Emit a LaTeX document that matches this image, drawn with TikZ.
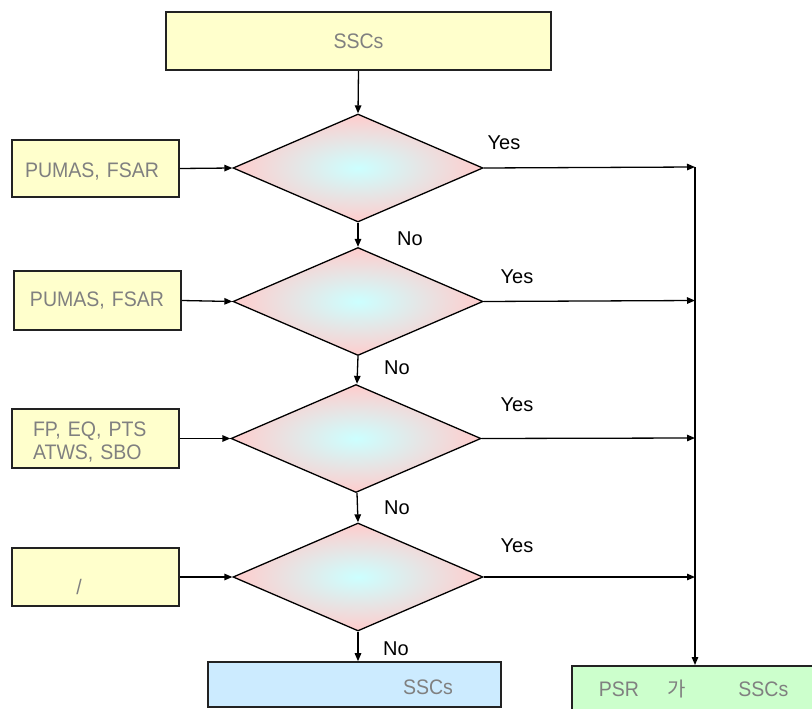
\documentclass[tikz,border=0pt]{standalone}
\usepackage{fontspec}
\setmainfont{Liberation Sans}
\newfontfamily\grayfont[FakeStretch=0.93]{Liberation Sans}
\newfontfamily\krfont{Noto Sans CJK KR}
\usetikzlibrary{shapes.geometric,arrows.meta}
\definecolor{boxyellow}{HTML}{FFFFCC}
\definecolor{boxblue}{HTML}{CCEBFF}
\definecolor{boxgreen}{HTML}{CCFFCC}
\definecolor{dpink}{HTML}{FFCCCC}
\definecolor{dcyan}{HTML}{CCFFFF}
\definecolor{txtgray}{HTML}{808080}
\definecolor{edge}{HTML}{222222}
\tikzset{
  box/.style={draw=edge, line width=1.6pt, fill=boxyellow, text=txtgray, inner sep=0pt,
    font=\grayfont\fontsize{21}{23}\selectfont},
  dec/.style={diamond, draw=black, line width=1.3pt, inner sep=0pt, aspect=2.3,
    minimum width=250pt, minimum height=108pt, inner color=dcyan, outer color=dpink},
  conn/.style={draw=black, line width=1.3pt, -{Triangle[length=8pt,width=6.5pt]}},
  lbl/.style={font=\fontsize{20}{22}\selectfont, text=black, inner sep=0pt}
}
\begin{document}
\begin{tikzpicture}[x=1pt,y=-1pt]
\useasboundingbox (0,0) rectangle (812,709);
\begin{scope}
\clip (0,0) rectangle (812,709);
% top box
\node[box, minimum width=385pt, minimum height=58pt] (top) at (358.5,41) {SSCs};
% diamonds
\node[dec] (d1) at (358,168) {};
\node[dec] (d2) at (358,301.5) {};
\node[dec] (d3) at (356,438.5) {};
\node[dec] (d4) at (358,577) {};
% left boxes
\node[box, minimum width=167pt, minimum height=57pt, text width=141pt, align=left, inner xsep=13pt] (b1) at (95.5,168.5) {\raisebox{-3pt}[\height][\depth]{PUMAS,\ FSAR}};
\node[box, minimum width=167pt, minimum height=59pt, text width=135pt, align=left, inner xsep=16pt] (b2) at (97.5,300.5) {PUMAS,\ FSAR};
\node[box, minimum width=167pt, minimum height=59pt, text width=125pt, align=left, inner xsep=21pt] (b3) at (95.5,438.5) {\raisebox{-5pt}[\height][\depth]{\begin{tabular}{@{}l@{}}FP, EQ, PTS\\ATWS, SBO\end{tabular}}};
\node[box, minimum width=167pt, minimum height=58pt] (b4) at (95.5,577) {\raisebox{-10pt}[\height][\depth]{/}\hspace*{33pt}};
% bottom boxes
\node[box, fill=boxblue, minimum width=293pt, minimum height=45pt] (res) at (354.5,684.5) {\hspace*{147pt}\raisebox{-3pt}[\height][\depth]{SSCs}};
\node[box, fill=boxgreen, minimum width=262pt, minimum height=46pt, anchor=north west, text width=230pt, align=left, inner xsep=27pt] (psr) at (571,665) {PSR\hspace{29pt}{\krfont\fontsize{20}{23}\selectfont 가}\hspace{52pt}SSCs};
% junctions on the right line
\coordinate (j1) at (695,167);
\coordinate (j2) at (695,300.5);
\coordinate (j3) at (695,438);
\coordinate (j4) at (695,577);
% connectors
\draw[conn] (top.south) -- (d1.north);
\draw[conn] (d1.south) -- (d2.north);
\draw[conn] (d2.south) -- ([xshift=1pt]d3.north);
\draw[conn] ([xshift=1pt]d3.south) -- (d4.north);
\draw[conn] (d4.south) -- (res.north -| d4.south);
\draw[conn] (b1.east) -- (d1.west);
\draw[conn] (b2.east) -- (d2.west);
\draw[conn] (b3.east) -- (d3.west);
\draw[conn] (b4.east) -- (d4.west);
\draw[conn] (d1.east) -- (j1);
\draw[conn] (d2.east) -- (j2);
\draw[conn] (d3.east) -- (j3);
\draw[conn] (d4.east) -- (j4);
\draw[conn] (j1) -- (j1 |- psr.north);
% labels
\node[lbl] (y1) at (504,143) {Yes};
\node[lbl] (y2) at (517,277) {Yes};
\node[lbl] (y3) at (517,405) {Yes};
\node[lbl] (y4) at (517,546) {Yes};
\node[lbl] (n1) at (410,239) {No};
\node[lbl] (n2) at (397,368) {No};
\node[lbl] (n3) at (397,508) {No};
\node[lbl] (n4) at (396,649) {No};
\end{scope}
\end{tikzpicture}
\end{document}
